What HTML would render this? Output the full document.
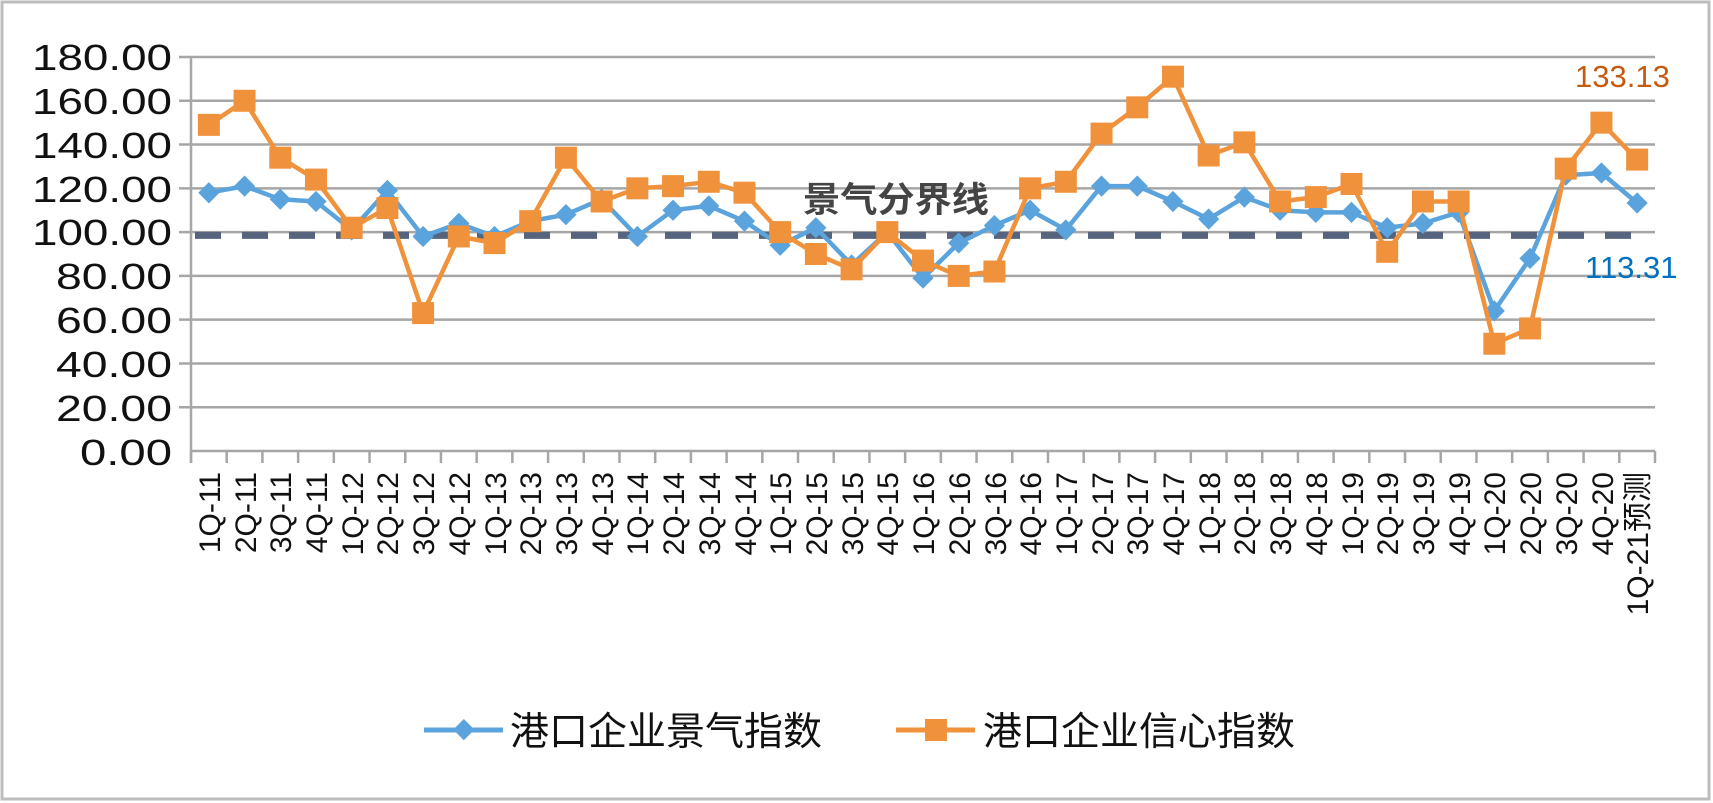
<!DOCTYPE html>
<html><head><meta charset="utf-8"><style>
body{margin:0;background:#fff;}
svg{display:block;}
text{font-family:"Liberation Sans","Noto Sans CJK SC",sans-serif;}
</style></head><body>
<svg id="s" width="1713" height="803" viewBox="0 0 1713 803" xmlns="http://www.w3.org/2000/svg">
<rect x="2" y="2" width="1707" height="797" fill="#fff" stroke="#bdbdbd" stroke-width="3"/>
<g id="grid" stroke="#a6a6a6" stroke-width="2.5"></g>
<g font-size="36" fill="#111" text-anchor="end" textLength="140">
<text x="172" y="70" textLength="140" lengthAdjust="spacingAndGlyphs">180.00</text><text x="172" y="114" textLength="140" lengthAdjust="spacingAndGlyphs">160.00</text><text x="172" y="158" textLength="140" lengthAdjust="spacingAndGlyphs">140.00</text><text x="172" y="202" textLength="140" lengthAdjust="spacingAndGlyphs">120.00</text><text x="172" y="245" textLength="140" lengthAdjust="spacingAndGlyphs">100.00</text><text x="172" y="289" textLength="116" lengthAdjust="spacingAndGlyphs">80.00</text><text x="172" y="333" textLength="116" lengthAdjust="spacingAndGlyphs">60.00</text><text x="172" y="377" textLength="116" lengthAdjust="spacingAndGlyphs">40.00</text><text x="172" y="421" textLength="116" lengthAdjust="spacingAndGlyphs">20.00</text><text x="172" y="465" textLength="92" lengthAdjust="spacingAndGlyphs">0.00</text>
</g>
<text x="803" y="212" font-size="35" font-weight="bold" fill="#444" font-family="'Noto Serif CJK SC',serif" textLength="186" lengthAdjust="spacingAndGlyphs">景气分界线</text>
<g id="series"></g>
<g font-size="30" fill="#111" text-anchor="end">
<text transform="translate(220,472) rotate(-90)">1Q-11</text>
<text transform="translate(256,472) rotate(-90)">2Q-11</text>
<text transform="translate(291,472) rotate(-90)">3Q-11</text>
<text transform="translate(327,472) rotate(-90)">4Q-11</text>
<text transform="translate(363,472) rotate(-90)">1Q-12</text>
<text transform="translate(398,472) rotate(-90)">2Q-12</text>
<text transform="translate(434,472) rotate(-90)">3Q-12</text>
<text transform="translate(470,472) rotate(-90)">4Q-12</text>
<text transform="translate(506,472) rotate(-90)">1Q-13</text>
<text transform="translate(541,472) rotate(-90)">2Q-13</text>
<text transform="translate(577,472) rotate(-90)">3Q-13</text>
<text transform="translate(613,472) rotate(-90)">4Q-13</text>
<text transform="translate(648,472) rotate(-90)">1Q-14</text>
<text transform="translate(684,472) rotate(-90)">2Q-14</text>
<text transform="translate(720,472) rotate(-90)">3Q-14</text>
<text transform="translate(756,472) rotate(-90)">4Q-14</text>
<text transform="translate(791,472) rotate(-90)">1Q-15</text>
<text transform="translate(827,472) rotate(-90)">2Q-15</text>
<text transform="translate(863,472) rotate(-90)">3Q-15</text>
<text transform="translate(898,472) rotate(-90)">4Q-15</text>
<text transform="translate(934,472) rotate(-90)">1Q-16</text>
<text transform="translate(970,472) rotate(-90)">2Q-16</text>
<text transform="translate(1006,472) rotate(-90)">3Q-16</text>
<text transform="translate(1041,472) rotate(-90)">4Q-16</text>
<text transform="translate(1077,472) rotate(-90)">1Q-17</text>
<text transform="translate(1113,472) rotate(-90)">2Q-17</text>
<text transform="translate(1148,472) rotate(-90)">3Q-17</text>
<text transform="translate(1184,472) rotate(-90)">4Q-17</text>
<text transform="translate(1220,472) rotate(-90)">1Q-18</text>
<text transform="translate(1255,472) rotate(-90)">2Q-18</text>
<text transform="translate(1291,472) rotate(-90)">3Q-18</text>
<text transform="translate(1327,472) rotate(-90)">4Q-18</text>
<text transform="translate(1363,472) rotate(-90)">1Q-19</text>
<text transform="translate(1398,472) rotate(-90)">2Q-19</text>
<text transform="translate(1434,472) rotate(-90)">3Q-19</text>
<text transform="translate(1470,472) rotate(-90)">4Q-19</text>
<text transform="translate(1505,472) rotate(-90)">1Q-20</text>
<text transform="translate(1541,472) rotate(-90)">2Q-20</text>
<text transform="translate(1577,472) rotate(-90)">3Q-20</text>
<text transform="translate(1613,472) rotate(-90)">4Q-20</text>
<text transform="translate(1648,472) rotate(-90)">1Q-21预测</text>
</g>
<text x="1575" y="87" font-size="31" fill="#c55a11">133.13</text>
<text x="1585" y="278" font-size="31" fill="#0070c0">113.31</text>
<g>
<line x1="424" y1="730" x2="503" y2="730" stroke="#5ba3dc" stroke-width="5"/>
<rect x="456" y="722" width="15" height="15" fill="#5ba3dc" transform="rotate(45 463.5 730)"/>
<text x="510" y="745" font-size="39" fill="#111">港口企业景气指数</text>
<line x1="896" y1="730" x2="975" y2="730" stroke="#f0923c" stroke-width="5"/>
<rect x="925" y="719" width="22" height="22" fill="#f0923c"/>
<text x="983" y="745" font-size="39" fill="#111">港口企业信心指数</text>
</g>
</svg>
<script>
(function(){
var L=191,R=1655,Y0=451,YS=(451-57)/180,N=41,W=(R-L)/N;
function y(v){return Y0-v*YS;}
function x(i){return L+W*(i+0.5);}
var g=document.getElementById('grid'),h='';
for(var k=0;k<=9;k++){var yy=y(k*20);h+='<line x1="'+(k==0?L:L-12)+'" y1="'+yy+'" x2="'+R+'" y2="'+yy+'"/>';}
h+='<line x1="'+L+'" y1="'+y(180)+'" x2="'+L+'" y2="'+(Y0+12)+'"/>';
for(var i=0;i<=N;i++){var xx=L+W*i;h+='<line x1="'+xx+'" y1="'+Y0+'" x2="'+xx+'" y2="'+(Y0+12)+'"/>';}
g.innerHTML=h;
var b=[118,121,115,114,101,119,98,104,98,105,108,115,98,110,112,105,94,102,85,100,79,95,103,110,101,121,121,114,106,116,110,109,109,102,104,109,64,88,126,127,113.31];
var o=[149,160,134,124,102,111,63,98,95,105,134,114,120,121,123,118,100,90,83,100,87,80,82,120,123,145,157,171,135,141,114,116,122,91,114,114,49,56,129,150,133.13];
var s='';
var dy=y(98.5);
s+='<line x1="'+(L+4)+'" y1="'+dy+'" x2="'+(R-20)+'" y2="'+dy+'" stroke="#56657d" stroke-width="7" stroke-dasharray="26,21"/>';
function pts(a){return a.map(function(v,i){return x(i).toFixed(1)+','+y(v).toFixed(1);}).join(' ');}
s+='<polyline points="'+pts(b)+'" fill="none" stroke="#5ba3dc" stroke-width="4.5" stroke-linejoin="round"/>';
b.forEach(function(v,i){var cx=x(i),cy=y(v);s+='<rect x="'+(cx-7.5)+'" y="'+(cy-7.5)+'" width="15" height="15" fill="#5ba3dc" transform="rotate(45 '+cx+' '+cy+')"/>';});
s+='<polyline points="'+pts(o)+'" fill="none" stroke="#f0923c" stroke-width="4.5" stroke-linejoin="round"/>';
o.forEach(function(v,i){var cx=x(i),cy=y(v);s+='<rect x="'+(cx-11)+'" y="'+(cy-11)+'" width="22" height="22" fill="#f0923c"/>';});
document.getElementById('series').innerHTML=s;
})();
</script>
</body></html>
